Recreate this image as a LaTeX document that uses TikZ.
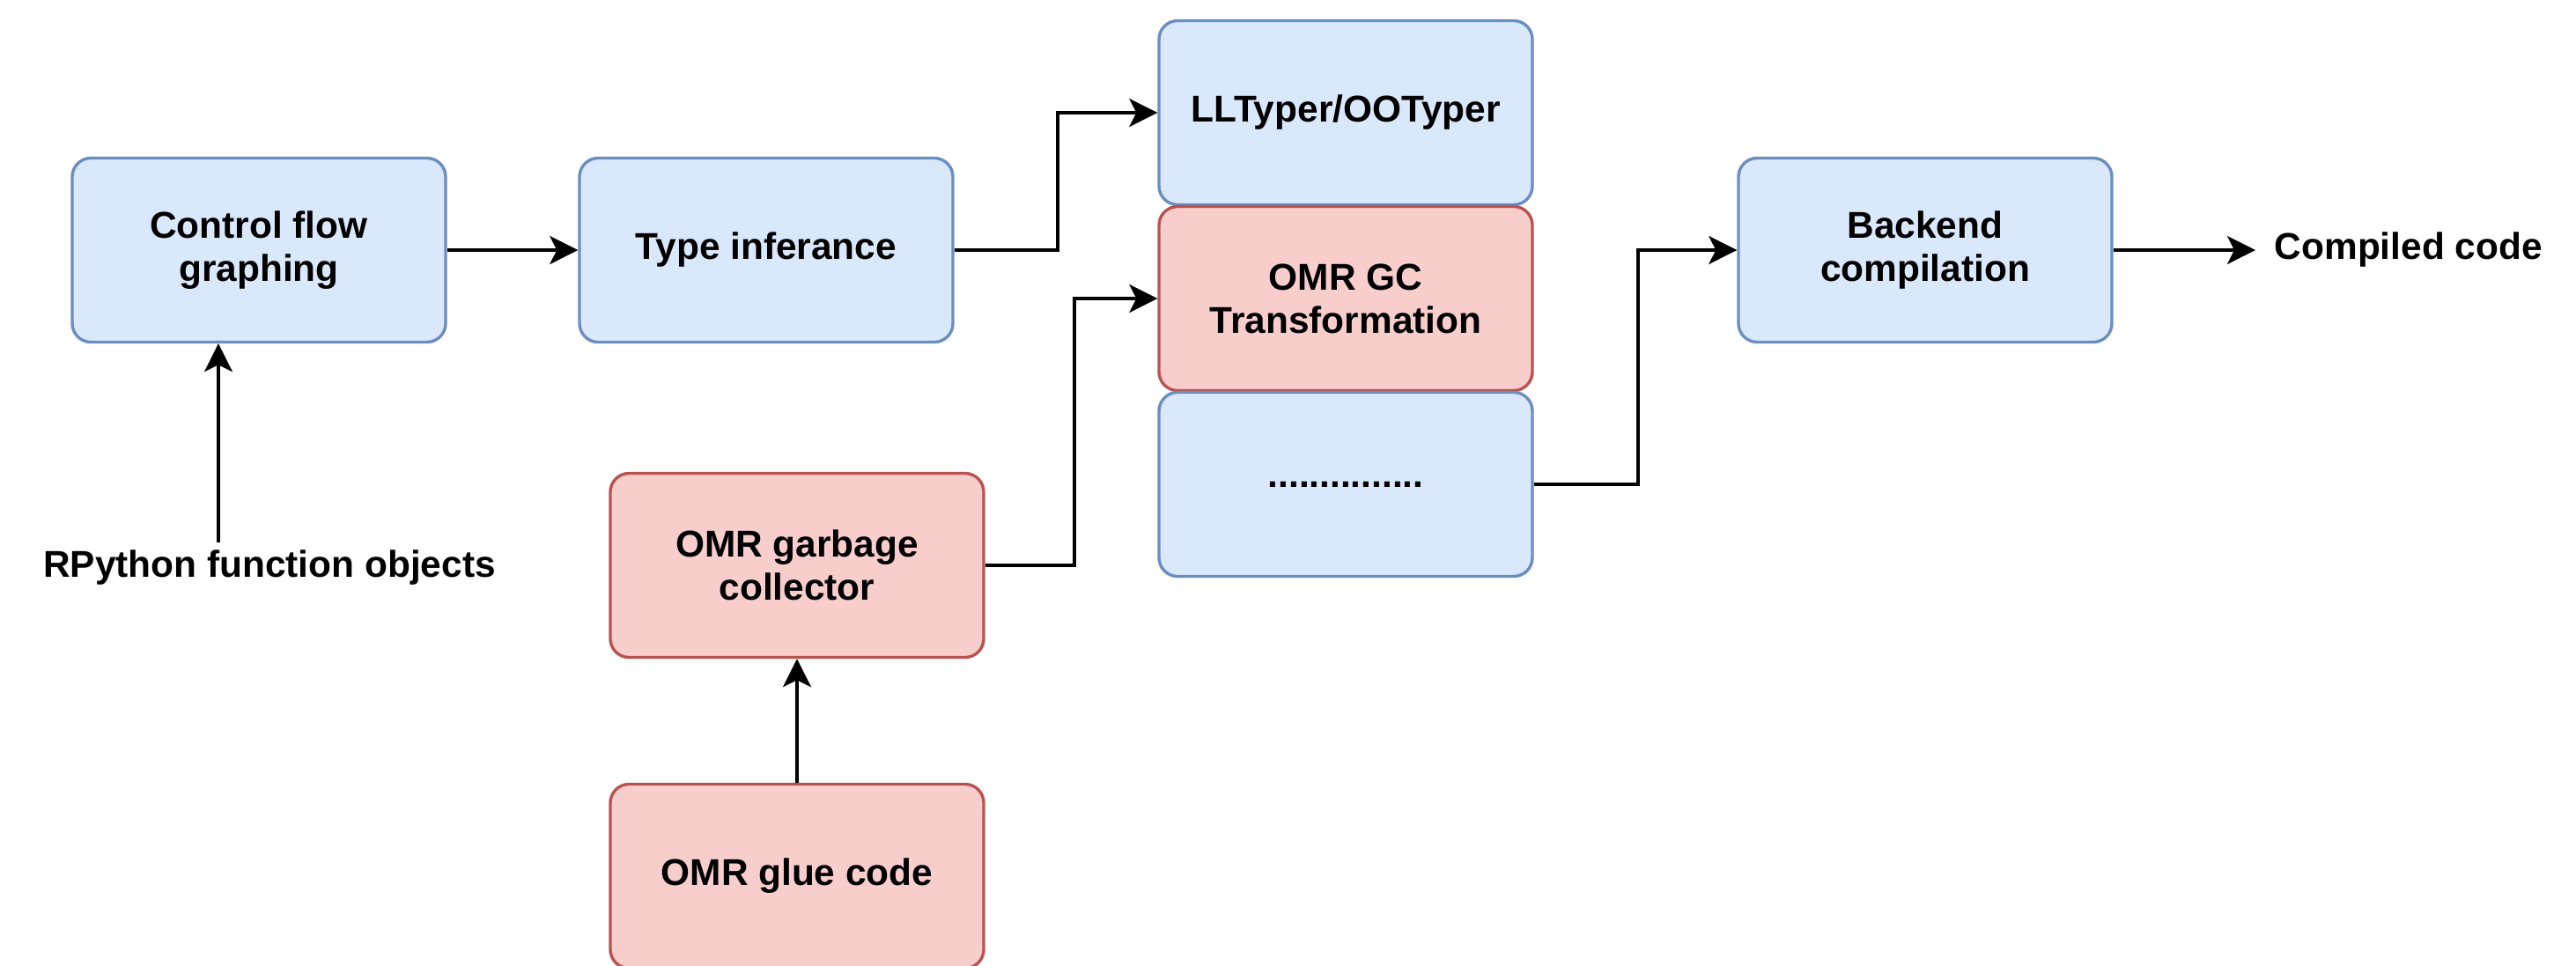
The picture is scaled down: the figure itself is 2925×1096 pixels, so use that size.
\documentclass[tikz,border=0pt]{standalone}
\usepackage{fontspec}
\setmainfont{Liberation Sans}
\usetikzlibrary{arrows.meta,calc}
\definecolor{bfill}{HTML}{DAE8FC}
\definecolor{bdraw}{HTML}{6C8EBF}
\definecolor{rfill}{HTML}{F8CECC}
\definecolor{rdraw}{HTML}{B85450}
\tikzset{
  box/.style={rectangle, rounded corners=5.3pt, line width=0.85pt, minimum width=106pt, minimum height=52.25pt, align=center, inner sep=2pt, font=\fontsize{10.6}{12.2}\selectfont\bfseries},
  bluebox/.style={box, fill=bfill, draw=bdraw},
  redbox/.style={box, fill=rfill, draw=rdraw},
  lbl/.style={font=\fontsize{10.6}{12.2}\selectfont\bfseries},
  arr/.style={line width=0.9pt, -{Stealth[length=8pt,width=8pt,inset=2pt]}},
}
\begin{document}
\begin{tikzpicture}[x=0.25pt,y=-0.25pt]
\useasboundingbox (0,0) rectangle (2925,1096);
\node[bluebox] (cfg) at (294,284) {Control flow\\graphing};
\node[bluebox] (typ) at (870,284) {Type inferance};
\node[bluebox] (llt) at (1528,128) {LLTyper/OOTyper};
\node[redbox] (gct) at (1528,339) {OMR GC\\Transformation};
\node[bluebox] (dots) at (1528,550) {...............};
\node[bluebox] (bec) at (2186,284) {Backend\\compilation};
\node[redbox] (gcl) at (905,642) {OMR garbage\\collector};
\node[redbox] (glue) at (905,995) {OMR glue code};
\node[lbl, inner sep=2pt] (rp) at (306,645) {RPython function objects};
\node[lbl, inner sep=5.25pt, anchor=west] (out) at (2561,284) {Compiled code};

\draw[arr] (cfg.east) -- (typ.west);
\draw[arr] (typ.east) -- ++(117,0) |- (llt.west);
\draw[arr] (gcl.east) -- ++(101,0) |- (gct.west);
\draw[arr] (dots.east) -- ++(118,0) |- (bec.west);
\draw[arr] (bec.east) -- (out.west);
\draw[arr] (glue.north) -- (gcl.south);
\draw[arr] ([xshift=-14.5pt]rp.north) -- ([xshift=-14.5pt]rp.north |- cfg.south);
\end{tikzpicture}
\end{document}
